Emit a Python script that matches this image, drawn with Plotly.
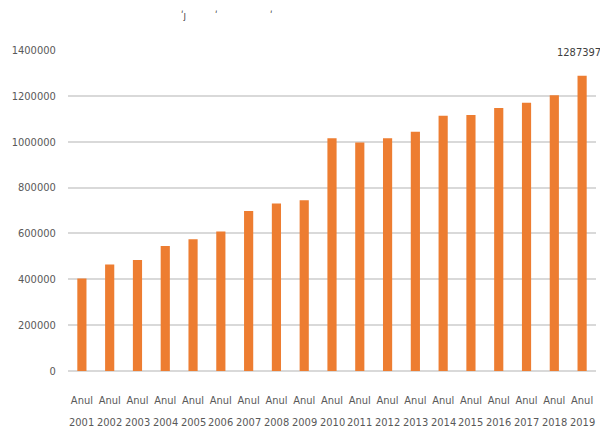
import plotly.graph_objects as go

years = ["2001", "2002", "2003", "2004", "2005", "2006", "2007", "2008", "2009", "2010",
         "2011", "2012", "2013", "2014", "2015", "2016", "2017", "2018", "2019"]
values = [403000, 464000, 484000, 545000, 575000, 608000, 698000, 730000, 745000, 1015500,
          997000, 1015500, 1044000, 1113000, 1117000, 1147000, 1170000, 1203000, 1287397]
prefix = "Anul"
y_ticks = [0, 200000, 400000, 600000, 800000, 1000000, 1200000, 1400000]

FONT = "DejaVu Sans Condensed, sans-serif"
GRAY = "#595959"

W, H = 600, 439
ML, MR, MT, MB = 68, 4, 50, 68
PW, PH = W - ML - MR, H - MT - MB

idx = list(range(len(years)))

fig = go.Figure()
fig.add_trace(go.Bar(
    x=idx,
    y=values,
    marker=dict(color="#ED7D31", line=dict(width=0)),
    hoverinfo="skip",
))

annotations = []
# second line of each category label (the year)
for i, yr in zip(idx, years):
    annotations.append(dict(
        x=i, y=0, xref="x", yref="paper", text=yr, showarrow=False,
        yanchor="middle", yshift=-51,
        font=dict(family=FONT, size=11, color=GRAY),
    ))
# value label on the last bar
annotations.append(dict(
    x=idx[-1], y=values[-1], xref="x", yref="y", text=str(values[-1]),
    showarrow=False, xanchor="center", yanchor="middle", yshift=23, xshift=-3,
    font=dict(family=FONT, size=11, color="#404040"),
))
# fragments of the clipped heading above the plot
for xpx, txt in [(183, "ʹȷ"), (216, "ʹ"), (271, "ʹ")]:
    annotations.append(dict(
        x=(xpx - ML) / PW, y=1 + (MT - 16) / PH, xref="paper", yref="paper", text=txt,
        showarrow=False, xanchor="center", yanchor="middle",
        font=dict(family=FONT, size=10, color="#404040"),
    ))

fig.update_layout(
    width=W, height=H,
    margin=dict(l=ML, r=MR, t=MT, b=MB),
    paper_bgcolor="white", plot_bgcolor="white",
    bargap=0.67,
    showlegend=False,
    annotations=annotations,
    xaxis=dict(
        range=[-0.5, len(years) - 0.5],
        tickmode="array", tickvals=idx, ticktext=[prefix] * len(years),
        tickangle=0,
        ticks="outside", ticklen=19, tickcolor="rgba(0,0,0,0)",
        tickfont=dict(family=FONT, size=11, color=GRAY),
        showgrid=False, showline=False, zeroline=False,
    ),
    yaxis=dict(
        range=[0, 1400000],
        tickmode="array", tickvals=y_ticks, ticktext=[str(v) for v in y_ticks],
        ticks="outside", ticklen=9, tickcolor="rgba(0,0,0,0)",
        tickfont=dict(family=FONT, size=11, color=GRAY),
        showgrid=True, gridcolor="#d9d9d9", gridwidth=1.5,
        zeroline=True, zerolinecolor="#d9d9d9", zerolinewidth=1.5,
        showline=False,
    ),
)

fig.write_html("out.html")
